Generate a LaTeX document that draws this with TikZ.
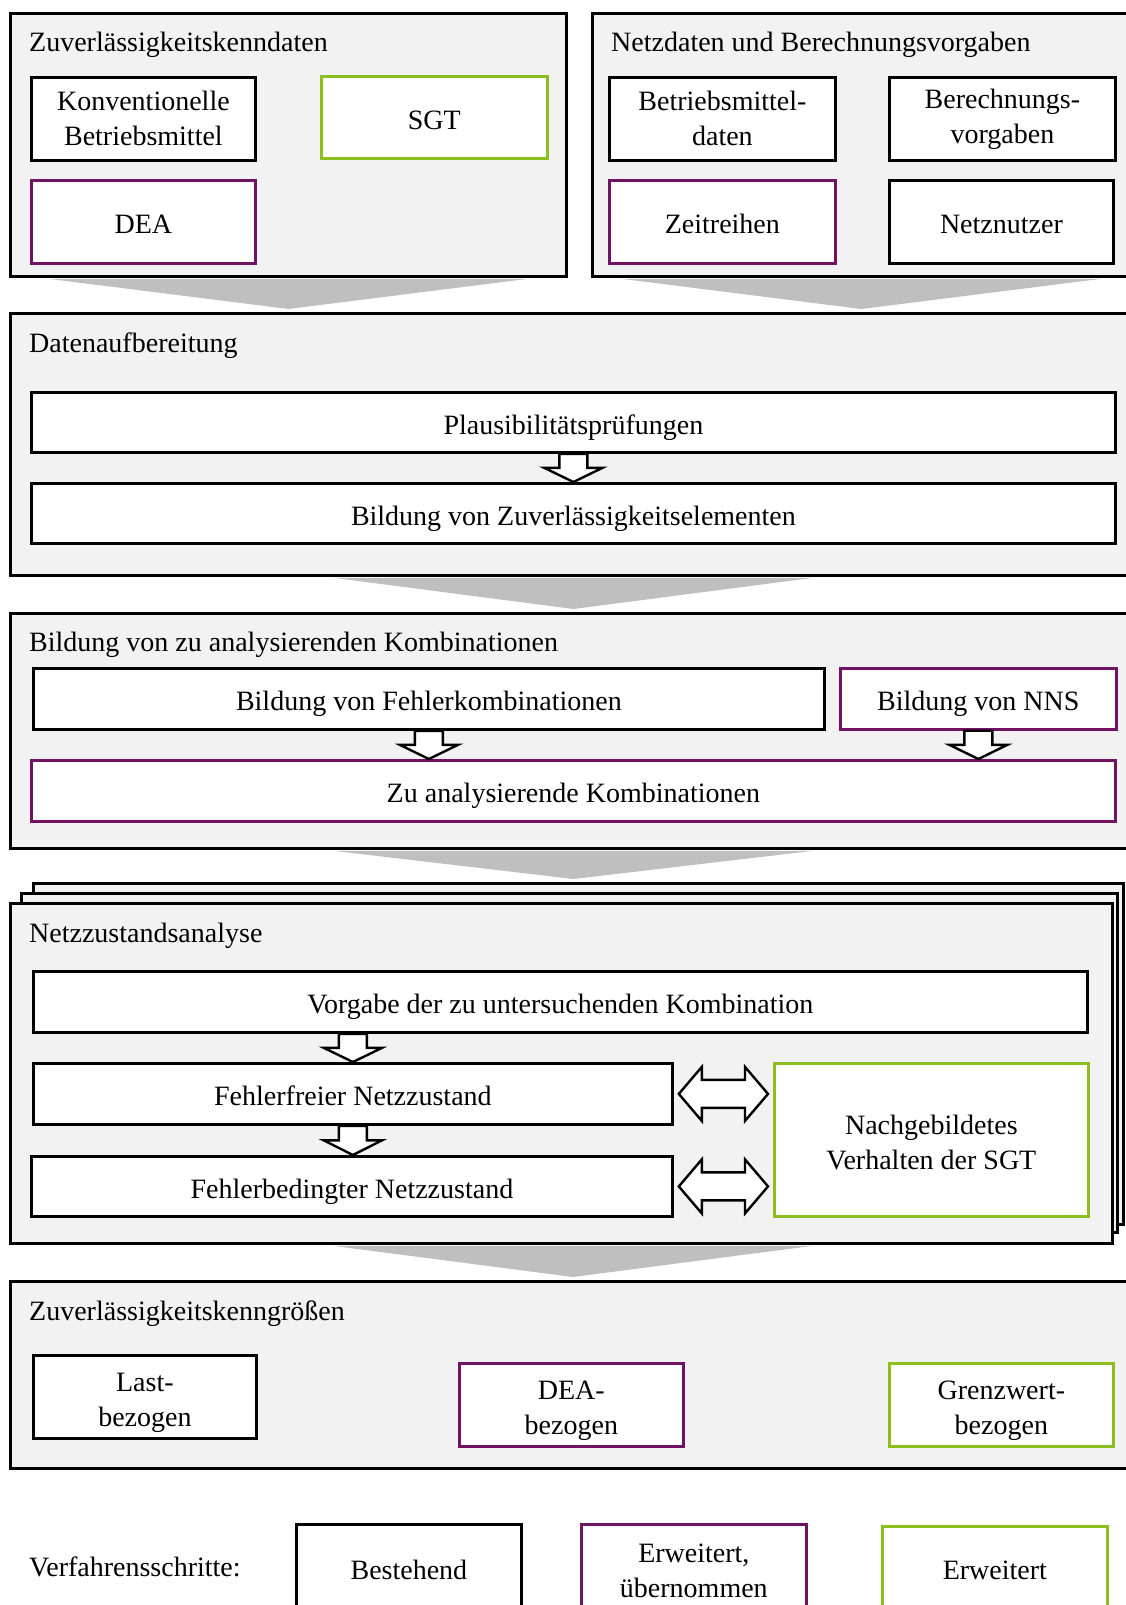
\documentclass[tikz,border=0pt]{standalone}
\usepackage{fontspec}
\setmainfont{Liberation Serif}
\usetikzlibrary{calc}

\definecolor{deapurple}{RGB}{113,18,98}
\definecolor{sgtgreen}{RGB}{141,190,32}
\definecolor{panelgray}{RGB}{242,242,242}
\definecolor{funnelgray}{RGB}{191,191,191}

\tikzset{
	panel/.style={draw=black, line width=2.8pt, fill=panelgray, inner sep=0pt, anchor=north west},
	paneltitle/.style={anchor=west, inner sep=0pt, text height=20pt, text depth=0pt},
	item/.style={draw=black, line width=2.8pt, fill=white, inner sep=0pt, anchor=north west, align=center},
	itemdea/.style={item, draw=deapurple, line width=2.7pt},
	itemsgt/.style={item, draw=sgtgreen, line width=2.7pt},
	oneline/.style={text height=24pt, text depth=0pt},
	lowtext/.style={text height=60pt, text depth=0pt},
	blockarrow/.style={draw=black, line width=2.4pt, fill=white, line join=miter},
	funnel/.style={fill=funnelgray, draw=none}
}

\newcommand{\flowdown}[3]{%
	\draw[blockarrow] let \p1=(#3.center |- #1.south), \p2=(#3.center |- #2.north) in
		(\x1-14pt,\y1) -- (\x1+14pt,\y1) -- (\x1+14pt,{(\y1+\y2)/2}) -- (\x1+29pt,{(\y1+\y2)/2})
		-- (\x1,\y2) -- (\x1-29pt,{(\y1+\y2)/2}) -- (\x1-14pt,{(\y1+\y2)/2}) -- cycle;}
\newcommand{\flowboth}[2]{%
	\draw[blockarrow] let \p1=(#1.east), \p2=(#2.west |- #1.east) in
		(\x1+5pt,\y1) -- (\x1+28pt,\y1+27pt) -- (\x1+28pt,\y1+14pt) -- (\x2-28pt,\y1+14pt)
		-- (\x2-28pt,\y1+27pt) -- (\x2-5pt,\y1) -- (\x2-28pt,\y1-27pt) -- (\x2-28pt,\y1-14pt)
		-- (\x1+28pt,\y1-14pt) -- (\x1+28pt,\y1-27pt) -- cycle;}
\newcommand{\funnelarrow}[3]{%
	\fill[funnel] let \p1=(#3.center |- #1.south), \p2=(#3.center |- #2.north) in
		(\x1-240pt,\y1-1pt) -- (\x1+240pt,\y1-1pt) -- (\x1,\y2+3pt) -- cycle;}

\begin{document}
\begin{tikzpicture}[x=1pt, y=-1pt, font=\fontsize{28}{35}\selectfont]
		\clip (0,0) rectangle (1126,1605);
		\fill[white] (0,0) rectangle (1126,1605);

		\node[panel, minimum width=556pt, minimum height=263pt] (kenndaten) at (9,12) {};
		\node[paneltitle] (kenndatentitle) at (29,42) {Zuverlässigkeitskenndaten};
		\node[item, minimum width=224pt, minimum height=83pt] (konv) at (30,76) {Konventionelle\\Betriebsmittel};
		\node[itemsgt, oneline, minimum width=226pt, minimum height=82pt] (sgt) at (320,75) {SGT};
		\node[itemdea, oneline, minimum width=224pt, minimum height=83pt] (dea) at (30,179) {DEA};

		\node[panel, minimum width=538pt, minimum height=263pt] (netzdaten) at (591,12) {};
		\node[paneltitle] (netzdatentitle) at (611,42) {Netzdaten und Berechnungsvorgaben};
		\node[item, minimum width=226pt, minimum height=83pt] (bmdaten) at (608,76) {Betriebsmittel-\\daten};
		\node[item, minimum width=226pt, minimum height=83pt] (vorgaben) at (888,76) {Berechnungs-\\vorgaben};
		\node[itemdea, oneline, minimum width=226pt, minimum height=83pt] (zeitreihen) at (608,179) {Zeitreihen};
		\node[item, oneline, minimum width=224pt, minimum height=83pt] (netznutzer) at (888,179) {Netznutzer};

		\node[panel, minimum width=1125pt, minimum height=262pt] (aufbereitung) at (9,312) {};
		\node[paneltitle] (aufbereitungtitle) at (29,342) {Datenaufbereitung};
		\node[item, oneline, minimum width=1084pt, minimum height=60pt] (plaus) at (30,391) {Plausibilitätsprüfungen};
		\node[item, oneline, minimum width=1084pt, minimum height=60pt] (elemente) at (30,482) {Bildung von Zuverlässigkeitselementen};
		\flowdown{plaus}{elemente}{plaus}

		\node[panel, minimum width=1125pt, minimum height=235pt] (kombis) at (9,612) {};
		\node[paneltitle] (kombistitle) at (29,641) {Bildung von zu analysierenden Kombinationen};
		\node[item, oneline, minimum width=791pt, minimum height=61pt] (fehlerkombis) at (32,667) {Bildung von Fehlerkombinationen};
		\node[itemdea, oneline, minimum width=276pt, minimum height=61pt] (nns) at (839,667) {Bildung von NNS};
		\node[itemdea, oneline, minimum width=1084pt, minimum height=61pt] (zuanalys) at (30,759) {Zu analysierende Kombinationen};
		\flowdown{fehlerkombis}{zuanalys}{fehlerkombis}
		\flowdown{nns}{zuanalys}{nns}

		\node[panel, minimum width=1090pt, minimum height=341pt] (stackback) at (32,882) {};
		\node[panel, minimum width=1096pt, minimum height=339pt] (stackmid) at (20,892) {};
		\node[panel, minimum width=1102pt, minimum height=340pt] (analyse) at (9,902) {};
		\node[paneltitle] (analysetitle) at (29,932) {Netzzustandsanalyse};
		\node[item, oneline, minimum width=1054pt, minimum height=61pt] (vorgabe) at (32,970) {Vorgabe der zu untersuchenden Kombination};
		\node[item, oneline, minimum width=639pt, minimum height=61pt] (fehlerfrei) at (32,1062) {Fehlerfreier Netzzustand};
		\node[item, oneline, minimum width=641pt, minimum height=60pt] (fehlerbed) at (30,1155) {Fehlerbedingter Netzzustand};
		\node[itemsgt, lowtext, minimum width=314pt, minimum height=153pt] (verhalten) at (773,1062) {Nachgebildetes\\Verhalten der SGT};
		\flowdown{vorgabe}{fehlerfrei}{fehlerfrei}
		\flowdown{fehlerfrei}{fehlerbed}{fehlerfrei}
		\flowboth{fehlerfrei}{verhalten}
		\flowboth{fehlerbed}{verhalten}

		\node[panel, minimum width=1125pt, minimum height=187pt] (kenngroessen) at (9,1280) {};
		\node[paneltitle] (kenngroessentitle) at (29,1310) {Zuverlässigkeitskenngrößen};
		\node[item, lowtext, minimum width=223pt, minimum height=83pt] (last) at (32,1354) {Last-\\bezogen};
		\node[itemdea, lowtext, minimum width=224pt, minimum height=83pt] (deabez) at (458,1362) {DEA-\\bezogen};
		\node[itemsgt, lowtext, minimum width=224pt, minimum height=83pt] (grenzwert) at (888,1362) {Grenzwert-\\bezogen};

		\funnelarrow{kenndaten}{aufbereitung}{kenndaten}
		\funnelarrow{netzdaten}{aufbereitung}{netzdaten}
		\funnelarrow{aufbereitung}{kombis}{plaus}
		\funnelarrow{kombis}{stackback}{zuanalys}
		\funnelarrow{analyse}{kenngroessen}{kenngroessen}

		\node[paneltitle] (legendtitle) at (29,1566) {Verfahrensschritte:};
		\node[item, minimum width=225pt, minimum height=92pt] (bestehend) at (295,1523) {Bestehend};
		\node[itemdea, minimum width=225pt, minimum height=92pt] (uebernommen) at (580,1523) {Erweitert,\\übernommen};
		\node[itemsgt, minimum width=225pt, minimum height=88pt] (erweitert) at (881,1525) {Erweitert};
	\end{tikzpicture}
\end{document}
